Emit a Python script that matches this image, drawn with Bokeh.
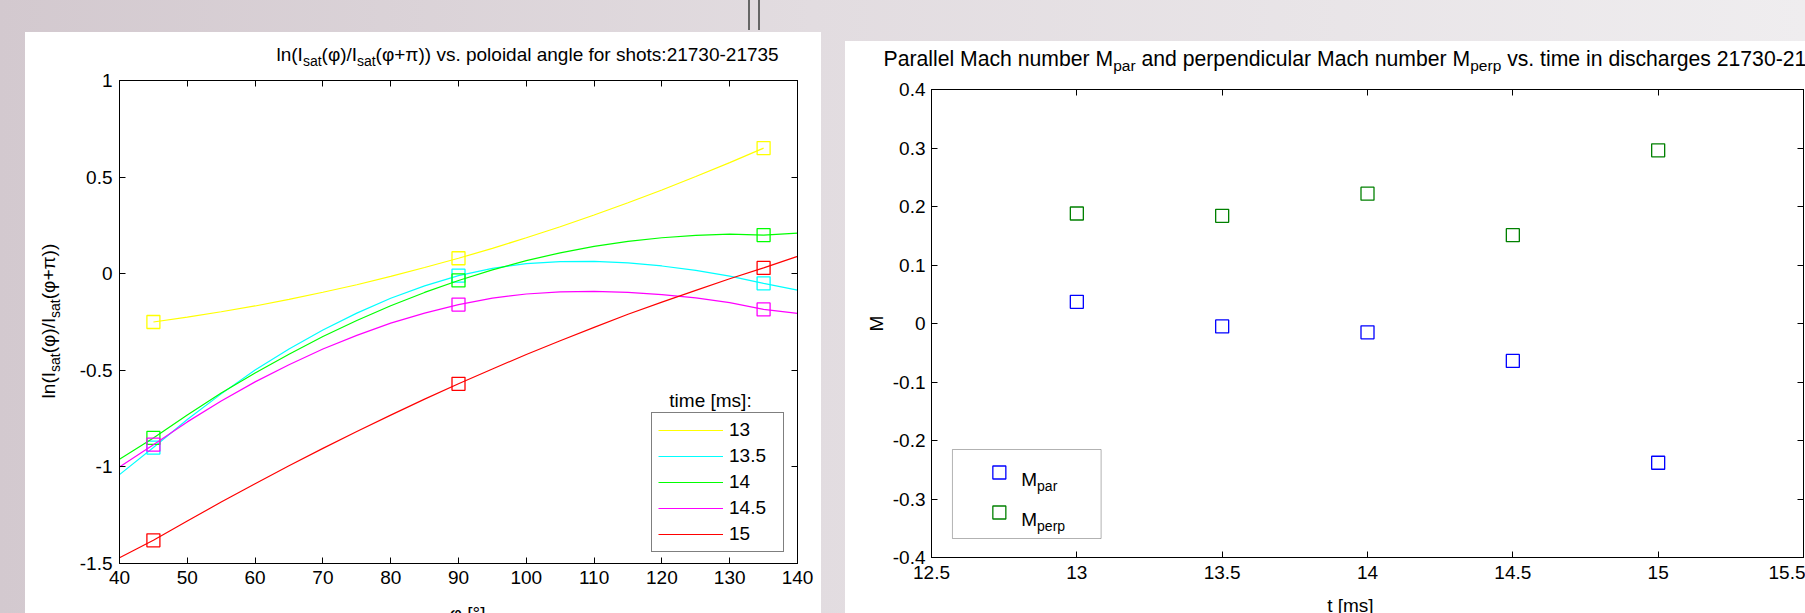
import math
from bokeh.plotting import figure
from bokeh.models import FixedTicker, LinearAxis, Label, Legend, LegendItem, BoxAnnotation, Range1d
from bokeh.layouts import row, column
from bokeh.embed import file_html
from bokeh.resources import INLINE

# ---------------- data: left chart ----------------
time_labels = ["13", "13.5", "14", "14.5", "15"]
phi_measured = [45, 90, 135]
meas_13 = [-0.25, 0.08, 0.65]
meas_13_5 = [-0.90, -0.01, -0.05]
meas_14 = [-0.85, -0.035, 0.20]
meas_14_5 = [-0.885, -0.16, -0.185]
meas_15 = [-1.38, -0.57, 0.03]

phi_fit = [40, 45, 50, 55, 60, 65, 70, 75, 80, 85, 90, 95, 100, 105, 110, 115, 120, 125, 130, 135, 140]
phi_fit_13 = [45, 50, 55, 60, 65, 70, 75, 80, 85, 90, 95, 100, 105, 110, 115, 120, 125, 130, 135]
fit_13 = [-0.25, -0.225, -0.197, -0.167, -0.133, -0.096, -0.057, -0.014, 0.032, 0.08, 0.131, 0.186,
          0.243, 0.304, 0.367, 0.433, 0.503, 0.575, 0.65]
fit_13_5 = [-1.04, -0.90, -0.755, -0.622, -0.499, -0.390, -0.291, -0.204, -0.127, -0.063, -0.01, 0.028,
            0.052, 0.063, 0.064, 0.056, 0.040, 0.017, -0.013, -0.05, -0.085]
fit_14 = [-0.96, -0.85, -0.731, -0.618, -0.514, -0.417, -0.325, -0.242, -0.166, -0.097, -0.035, 0.020,
          0.068, 0.108, 0.141, 0.167, 0.186, 0.198, 0.205, 0.20, 0.21]
fit_14_5 = [-1.00, -0.885, -0.767, -0.659, -0.560, -0.471, -0.390, -0.319, -0.256, -0.204, -0.16, -0.126,
            -0.105, -0.094, -0.092, -0.097, -0.108, -0.125, -0.150, -0.185, -0.205]
fit_15 = [-1.47, -1.38, -1.280, -1.182, -1.087, -0.994, -0.904, -0.817, -0.732, -0.649, -0.57, -0.493,
          -0.418, -0.347, -0.278, -0.210, -0.147, -0.086, -0.026, 0.03, 0.09]

left_x_ticks = [40, 50, 60, 70, 80, 90, 100, 110, 120, 130, 140]
left_x_labels = ["40", "50", "60", "70", "80", "90", "100", "110", "120", "130", "140"]
left_y_ticks = [-1.5, -1, -0.5, 0, 0.5, 1]
left_y_labels = ["-1.5", "-1", "-0.5", "0", "0.5", "1"]

# ---------------- data: right chart ----------------
t_ms = [13, 13.5, 14, 14.5, 15]
m_par = [0.037, -0.005, -0.015, -0.064, -0.238]
m_perp = [0.188, 0.184, 0.222, 0.151, 0.296]

right_x_ticks = [12.5, 13, 13.5, 14, 14.5, 15, 15.5]
right_x_labels = ["12.5", "13", "13.5", "14", "14.5", "15", "15.5"]
right_y_ticks = [-0.4, -0.3, -0.2, -0.1, 0, 0.1, 0.2, 0.3, 0.4]
right_y_labels = ["-0.4", "-0.3", "-0.2", "-0.1", "0", "0.1", "0.2", "0.3", "0.4"]

# ---------------- styling ----------------
FONT = "Liberation Sans"
MAIN = 19
line_colors = ["#ffff00", "#00ffff", "#00ff00", "#ff00ff", "#ff0000"]

AW = {' ': 278, '(': 333, ')': 333, '/': 278, '.': 278, ':': 278, '-': 333, '+': 584,
      '[': 278, ']': 278, '°': 400, 'φ': 640, 'π': 600,
      'a': 556, 'b': 556, 'c': 500, 'd': 556, 'e': 556, 'f': 278, 'g': 556, 'h': 556,
      'i': 222, 'j': 222, 'k': 500, 'l': 222, 'm': 833, 'n': 556, 'o': 556, 'p': 556,
      'q': 556, 'r': 333, 's': 500, 't': 278, 'u': 556, 'v': 500, 'w': 722, 'x': 500,
      'y': 500, 'z': 500, 'I': 278, 'M': 833, 'P': 667}


def tw(s, size):
    return sum(AW.get(ch, 556) for ch in s) * size / 1000.0


def rich_width(segs, main, sub):
    return sum(tw(t, sub if s else main) for t, s in segs)


def add_rich(p, segs, x0, y0, main=MAIN, sub=14, shift=6, angle=0.0, mapper=None):
    """Place text segments (with subscripts); coordinates are window pixels (y down)."""
    pos = 0.0
    for text, is_sub in segs:
        size = sub if is_sub else main
        dy = shift if is_sub else 0
        stripped = text.lstrip(" ")
        pos += tw(text[:len(text) - len(stripped)], size)
        if angle == 0:
            px, py = x0 + pos, y0 + dy
        else:
            px, py = x0 + dy, y0 - pos
        x, y = mapper(px, py) if mapper else (px, py)
        p.add_layout(Label(x=x, y=y, text=stripped.rstrip(" "), angle=angle,
                           text_align="left", text_baseline="alphabetic",
                           text_font=FONT, text_font_size=f"{size}px", text_color="black"))
        pos += tw(stripped, size)


def text_block(x0, y0, w, h):
    """White block whose data coordinates are window pixels (y downwards)."""
    b = figure(width=w, height=h, x_range=Range1d(x0, x0 + w), y_range=Range1d(y0 + h, y0),
               output_backend="svg", toolbar_location=None, min_border=0,
               x_axis_location=None, y_axis_location=None, outline_line_color=None,
               background_fill_color="white", border_fill_color="white")
    b.grid.visible = False
    return b


def setup_axes(p, xt, xl, yt, yl, xstandoff, ystandoff):
    top = LinearAxis()
    rgt = LinearAxis()
    p.add_layout(top, "above")
    p.add_layout(rgt, "right")
    for ax in p.xaxis:
        ax.ticker = FixedTicker(ticks=xt)
        ax.major_label_overrides = dict(zip(xt, xl))
        ax.major_label_standoff = xstandoff
    for ax in p.yaxis:
        ax.ticker = FixedTicker(ticks=yt)
        ax.major_label_overrides = dict(zip(yt, yl))
        ax.major_label_standoff = ystandoff
    top.major_label_overrides = {t: "" for t in xt}
    rgt.major_label_overrides = {t: "" for t in yt}
    for ax in p.xaxis + p.yaxis:
        ax.major_tick_in = 6
        ax.major_tick_out = 0
        ax.minor_tick_in = 0
        ax.minor_tick_out = 0
        ax.axis_line_color = "black"
        ax.major_tick_line_color = "black"
        ax.major_label_text_font = FONT
        ax.major_label_text_font_size = f"{MAIN}px"
        ax.major_label_text_color = "black"
    top.major_label_standoff = 0
    rgt.major_label_standoff = 0
    p.xgrid.visible = False
    p.ygrid.visible = False
    p.outline_line_color = "black"


# ---------------- left panel (window x 25..821, y 32..613) ----------------
F1L, F1T, F1R, F1B = 119, 80, 797, 563          # frame in window pixels
P1X, P1Y, P1W, P1H = 73, 69, 748, 531
p1 = figure(width=P1W, height=P1H, x_range=(40, 140), y_range=(-1.5, 1),
            output_backend="svg", toolbar_location=None,
            min_border_left=F1L - P1X, min_border_right=P1X + P1W - F1R,
            min_border_top=F1T - P1Y, min_border_bottom=P1Y + P1H - F1B,
            background_fill_color="white", border_fill_color="white")
setup_axes(p1, left_x_ticks, left_x_labels, left_y_ticks, left_y_labels, 7, 7)


def m1(px, py):
    return (40 + (px - F1L) * 100 / (F1R - F1L), 1 - (py - F1T) * 2.5 / (F1B - F1T))


fits = [(phi_fit_13, fit_13), (phi_fit, fit_13_5), (phi_fit, fit_14), (phi_fit, fit_14_5), (phi_fit, fit_15)]
meas = [meas_13, meas_13_5, meas_14, meas_14_5, meas_15]
items = []
for (xs, ys), ms, col, lab in zip(fits, meas, line_colors, time_labels):
    r = p1.line(xs, ys, line_color=col, line_width=1.2)
    p1.scatter(phi_measured, ms, marker="square", size=13, fill_color=None, line_color=col, line_width=1.3)
    items.append(LegendItem(label=lab, renderers=[r]))

leg = Legend(items=items, location=(532, 11), border_line_color="black", border_line_width=1,
             background_fill_color="white", background_fill_alpha=1, padding=6, margin=0, spacing=4,
             glyph_width=65, glyph_height=20, label_height=20, label_width=48, label_standoff=6,
             label_text_font=FONT, label_text_font_size=f"{MAIN}px", label_text_color="black")
p1.add_layout(leg, "center")

tx, ty = m1(710, 400)
p1.add_layout(Label(x=tx, y=ty, text="time [ms]:", text_align="center", text_baseline="alphabetic",
                    text_font=FONT, text_font_size=f"{MAIN}px", text_color="black"))

T1 = text_block(25, 32, 796, 37)
title1 = [("ln(I", False), ("sat", True), ("(φ)/I", False), ("sat", True),
          ("(φ+π)) vs. poloidal angle for shots:21730-21735", False)]
add_rich(T1, title1, 276, 54, main=19, sub=14, shift=6)

Y1 = text_block(25, 69, 48, 544)
ylab1 = [("ln(I", False), ("sat", True), ("(φ)/I", False), ("sat", True), ("(φ+π))", False)]
add_rich(Y1, ylab1, 48, (F1T + F1B) / 2 + rich_width(ylab1, 19, 14) / 2, main=19, sub=14, shift=6,
         angle=math.pi / 2)

X1 = text_block(73, 600, 748, 13)
X1.add_layout(Label(x=457, y=602, text="φ [°]", text_align="center",
                    text_baseline="top", text_font=FONT, text_font_size=f"{MAIN}px",
                    text_color="black"))

left_panel = column(T1, row(Y1, column(p1, X1)), margin=(32, 0, 0, 25),
                    styles={"background-color": "white"})

# ---------------- right panel (window x 845..1805, y 41..613) ----------------
F2L, F2T, F2R, F2B = 929, 89, 1803, 557
P2X, P2Y, P2W, P2H = 889, 77, 916, 513
p2 = figure(width=P2W, height=P2H, x_range=(12.5, 15.5), y_range=(-0.4, 0.4),
            output_backend="svg", toolbar_location=None,
            min_border_left=F2L - P2X, min_border_right=P2X + P2W - F2R,
            min_border_top=F2T - P2Y, min_border_bottom=P2Y + P2H - F2B,
            background_fill_color="white", border_fill_color="white")
setup_axes(p2, right_x_ticks, right_x_labels, right_y_ticks, right_y_labels, 8, 6)


def m2(px, py):
    return (12.5 + (px - F2L) * 3 / (F2R - F2L), 0.4 - (py - F2T) * 0.8 / (F2B - F2T))


p2.scatter(t_ms, m_par, marker="square", size=13, fill_color=None, line_color="#0000ff", line_width=1.3)
p2.scatter(t_ms, m_perp, marker="square", size=13, fill_color=None, line_color="#008000", line_width=1.3)

# legend box drawn by hand (labels need subscripts)
bl, bt = m2(950, 449)
br, bb = m2(1099, 538)
p2.add_layout(BoxAnnotation(left=bl, right=br, top=bt, bottom=bb, fill_color="white", fill_alpha=1,
                            line_color="black", line_width=1, level="underlay"))
sx1, sy1 = m2(997, 472)
sx2, sy2 = m2(997, 512)
p2.scatter([sx1], [sy1], marker="square", size=13, fill_color=None, line_color="#0000ff", line_width=1.3)
p2.scatter([sx2], [sy2], marker="square", size=13, fill_color=None, line_color="#008000", line_width=1.3)
add_rich(p2, [("M", False), ("par", True)], 1019, 479, mapper=m2)
add_rich(p2, [("M", False), ("perp", True)], 1019, 519, mapper=m2)

T2 = text_block(845, 41, 960, 36)
title2 = [("Parallel Mach number M", False), ("par", True), (" and perpendicular Mach number M", False),
          ("perp", True), (" vs. time in discharges 21730-21735", False)]
add_rich(T2, title2, 883, 58, main=21.2, sub=15.5, shift=7)

Y2 = text_block(845, 77, 44, 536)
Y2.add_layout(Label(x=876, y=(F2T + F2B) / 2, text="M", angle=math.pi / 2, text_align="center",
                    text_baseline="alphabetic", text_font=FONT, text_font_size=f"{MAIN}px",
                    text_color="black"))

X2 = text_block(889, 590, 916, 23)
X2.add_layout(Label(x=1329, y=605, text="t [ms]", text_align="center",
                    text_baseline="alphabetic", text_font=FONT, text_font_size=f"{MAIN}px",
                    text_color="black"))

right_panel = column(T2, row(Y2, column(p2, X2)), margin=(41, 0, 0, 24),
                     styles={"background-color": "white"})

bg = ("linear-gradient(#666666,#666666) 748px 0px / 2px 30px no-repeat, "
      "linear-gradient(#666666,#666666) 758px 0px / 2px 30px no-repeat, "
      "linear-gradient(90deg, #d3c9cf 0%, #e2dce0 45%, #efedef 100%)")
layout = row(left_panel, right_panel, width=1805, height=613, styles={"background": bg})

open("out.html", "w").write(file_html(layout, INLINE))
